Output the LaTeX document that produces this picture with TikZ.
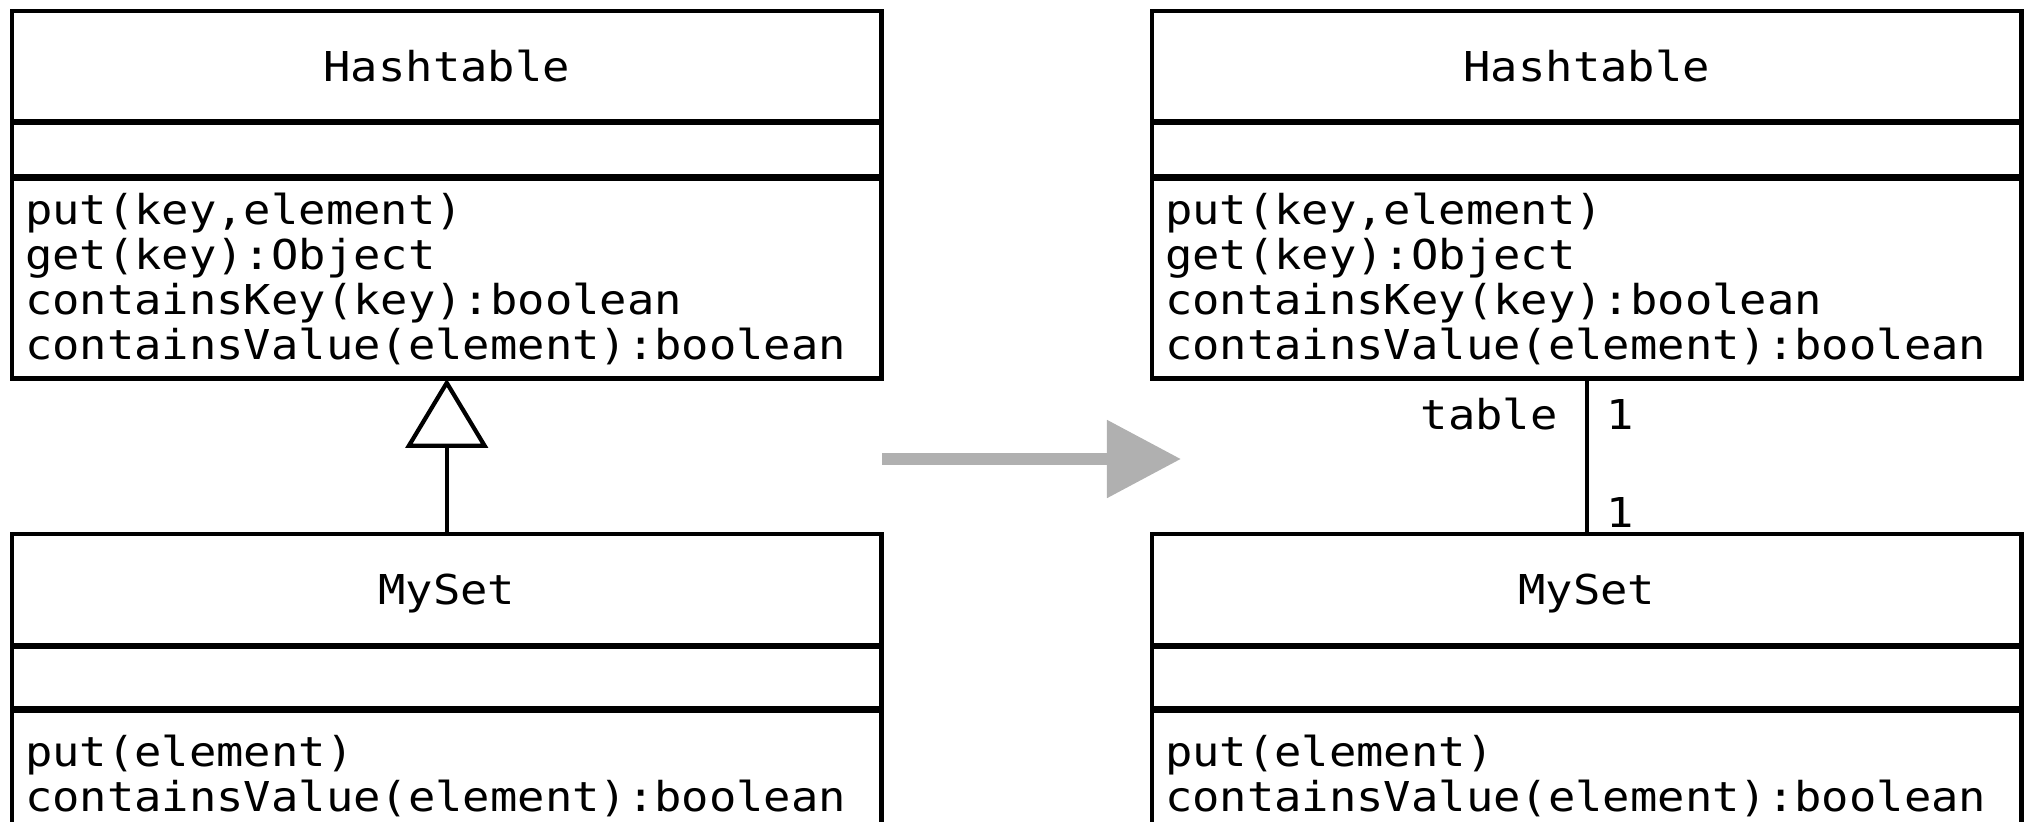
\documentclass[tikz,border=0pt]{standalone}
\usepackage{fontspec}
\usepackage{tikz}
\usetikzlibrary{arrows.meta, positioning}

\newfontfamily\umlfont[FakeStretch=1.105]{DejaVu Sans Mono}
\newcommand{\umltext}{\umlfont\fontsize{11.7pt}{12.8pt}\selectfont}
\definecolor{shiftgray}{RGB}{176,176,176}

\begin{document}
\begin{tikzpicture}[
  x=0.01cm, y=-0.01cm,
  node distance=0.5pt,
  part/.style={rectangle, draw=black, line width=1.35pt, outer sep=0pt,
               inner sep=0pt, minimum width=8.69cm, font=\umltext},
  cname/.style={part, minimum height=#1, text depth=0pt},
  cattr/.style={part, minimum height=#1},
  cops/.style={part, minimum height=#1, text width=8.43cm,
               inner xsep=0.13cm, align=left},
  inherit/.style={-{Triangle[open, length=0.69cm, width=0.82cm]}, line width=1.2pt},
  assoc/.style={line width=1.2pt},
  refactor/.style={-{Triangle[length=0.74cm, width=0.75cm]}, line width=0.12cm, shiftgray},
  lbl/.style={font=\umltext, inner sep=0pt}
]
\useasboundingbox (0,0) rectangle (2027,821);

% Left: MySet extends Hashtable
\node[cname=1.10cm, anchor=north west] (lhName) at (12,11) {Hashtable};
\node[cattr=0.54cm, below=of lhName] (lhAttr) {};
\node[cops=2.00cm, below=of lhAttr] (lhOps)
  {put(key,element)\\get(key):Object\\containsKey(key):boolean\\containsValue(element):boolean};

\node[cname=1.11cm, anchor=north west] (lsName) at (12,534) {MySet};
\node[cattr=0.62cm, below=of lsName] (lsAttr) {};
\node[cops=1.30cm, below=of lsAttr] (lsOps)
  {put(element)\\containsValue(element):boolean};

\draw[inherit] (lsName.north) -- (lhOps.south);

% Right: MySet holds a Hashtable
\node[cname=1.10cm, anchor=north west] (rhName) at (1152,11) {Hashtable};
\node[cattr=0.54cm, below=of rhName] (rhAttr) {};
\node[cops=2.00cm, below=of rhAttr] (rhOps)
  {put(key,element)\\get(key):Object\\containsKey(key):boolean\\containsValue(element):boolean};

\node[cname=1.11cm, anchor=north west] (rsName) at (1152,534) {MySet};
\node[cattr=0.62cm, below=of rsName] (rsAttr) {};
\node[cops=1.30cm, below=of rsAttr] (rsOps)
  {put(element)\\containsValue(element):boolean};

\draw[assoc] (rhOps.south) -- (rsName.north)
  node[lbl, pos=0.33, anchor=base east, xshift=-0.27cm] {table}
  node[lbl, pos=0.33, anchor=base west, xshift=0.18cm] {1}
  node[lbl, pos=0.955, anchor=base west, xshift=0.18cm] {1};

% Refactoring arrow
\coordinate (shiftFrom) at (882,459);
\coordinate (shiftTo) at (1181,459);
\draw[refactor] (shiftFrom) -- (shiftTo);

\end{tikzpicture}
\end{document}
